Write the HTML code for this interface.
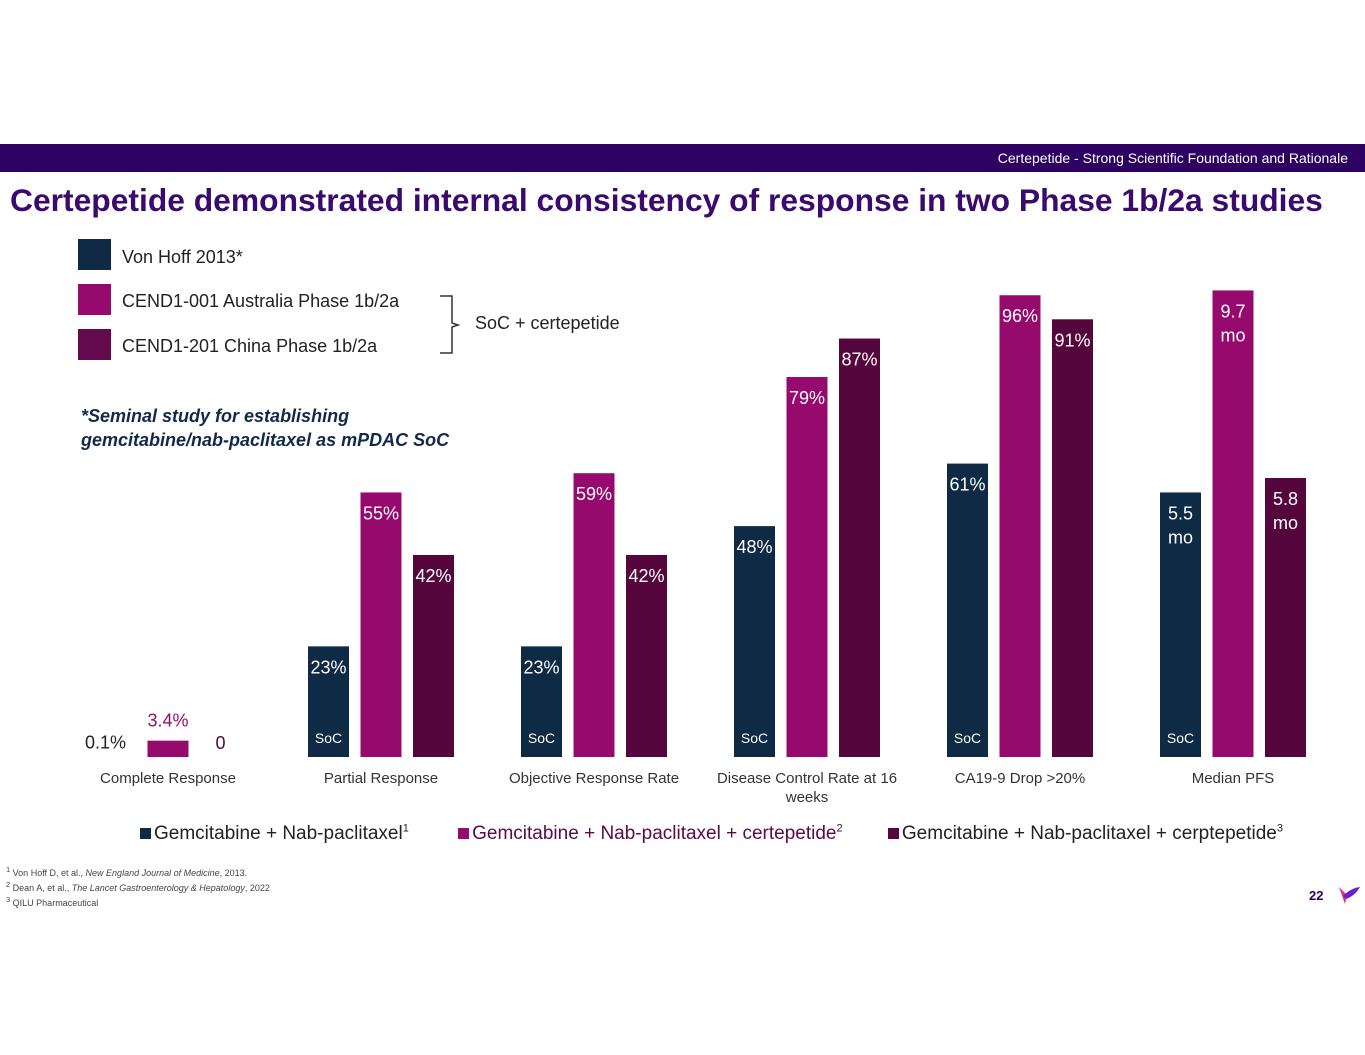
<!DOCTYPE html>
<html><head><meta charset="utf-8"><style>
body{margin:0;width:1365px;height:1055px;background:#fff;font-family:"Liberation Sans",sans-serif;position:relative;overflow:hidden}
.a{position:absolute;white-space:nowrap}
</style></head><body>
<div class="a" style="left:0;top:144px;width:1365px;height:28px;background:#2e0062"></div>
<div class="a" style="right:17px;top:150px;color:#fff;font-size:14px">Certepetide - Strong Scientific Foundation and Rationale</div>
<div class="a" style="left:10px;top:182px;color:#3a0a6e;font-size:31.8px;font-weight:bold">Certepetide demonstrated internal consistency of response in two Phase 1b/2a studies</div>

<div class="a" style="left:78px;top:239px;width:33px;height:31px;background:#0f2a44"></div>
<div class="a" style="left:122px;top:247px;font-size:18px;color:#222">Von Hoff 2013*</div>
<div class="a" style="left:78px;top:284px;width:33px;height:31px;background:#960a6e"></div>
<div class="a" style="left:122px;top:291px;font-size:18px;color:#222">CEND1-001 Australia Phase 1b/2a</div>
<div class="a" style="left:78px;top:329px;width:33px;height:31px;background:#640a4e"></div>
<div class="a" style="left:122px;top:336px;font-size:18px;color:#222">CEND1-201 China Phase 1b/2a</div>
<svg class="a" style="left:438px;top:294px" width="30" height="62"><path d="M2 2 H14 V29 L20 31 L14 33 V59 H2" fill="none" stroke="#333" stroke-width="1.5"/></svg>
<div class="a" style="left:475px;top:313px;font-size:18px;color:#222">SoC + certepetide</div>
<div class="a" style="left:81px;top:404px;font-size:18px;color:#13294b;font-weight:bold;font-style:italic;line-height:24px">*Seminal study for establishing<br>gemcitabine/nab-paclitaxel as mPDAC SoC</div>

<svg class="a" id="chart" style="left:0;top:0" width="1365" height="820"></svg>

<div class="a" style="left:140px;top:823px;font-size:19px;color:#222">
<span><span style="display:inline-block;width:11px;height:11px;background:#0f2a44;margin-right:3px"></span>Gemcitabine + Nab-paclitaxel<sup style="font-size:11px">1</sup></span>
<span style="margin-left:44px;color:#5a0a48"><span style="display:inline-block;width:11px;height:11px;background:#960a6e;margin-right:3px"></span>Gemcitabine + Nab-paclitaxel + certepetide<sup style="font-size:11px;color:#222">2</sup></span>
<span style="margin-left:40px"><span style="display:inline-block;width:11px;height:11px;background:#55063c;margin-right:3px"></span>Gemcitabine + Nab-paclitaxel + cerptepetide<sup style="font-size:11px">3</sup></span>
</div>

<div class="a" style="left:6px;top:864px;font-size:9px;color:#444;line-height:12px">
<sup>1</sup> Von Hoff D, et al., <i>New England Journal of Medicine</i>, 2013.<br>
<sup>2</sup> Dean A, et al., <i>The Lancet Gastroenterology &amp; Hepatology</i>, 2022<br>
<sup>3</sup> QILU Pharmaceutical</div>
<div class="a" style="left:1309px;top:888px;font-size:13px;font-weight:bold;color:#2e0062">22</div>
<svg class="a" style="left:1337px;top:884px" width="24" height="22"><path d="M2 3 L10 11 L8 20 Z" fill="#e0307a"/><path d="M6 12 Q14 4 23 3 Q18 12 9 15 Z" fill="#6a1fd0"/></svg>

<script>
const categories=["Complete Response","Partial Response","Objective Response Rate","Disease Control Rate at 16 weeks","CA19-9 Drop >20%","Median PFS"];
const socValues=[0.1,23,23,48,61,55];
const cend001Values=[3.4,55,59,79,96,97];
const cend201Values=[0,42,42,87,91,58];
const socLabels=["0.1%","23%","23%","48%","61%","5.5 mo"];
const cend001Labels=["3.4%","55%","59%","79%","96%","9.7 mo"];
const cend201Labels=["0","42%","42%","87%","91%","5.8 mo"];
const ns="http://www.w3.org/2000/svg";
const svg=document.getElementById('chart');
const base=757, pxPer=4.81, x0=168, step=213, bw=41;
const yS=v=>base-v*pxPer;
const xC=i=>x0+i*step;
const series=[{v:socValues,l:socLabels,c:"#0f2a44",off:-52.5,n:"soc"},{v:cend001Values,l:cend001Labels,c:"#960a6e",off:0,n:"cend1-001"},{v:cend201Values,l:cend201Labels,c:"#55063c",off:52.5,n:"cend1-201"}];
function txt(x,y,s,fill,size,name,anchor){const t=document.createElementNS(ns,'text');t.setAttribute('x',x);t.setAttribute('y',y);t.setAttribute('fill',fill);t.setAttribute('font-size',size);t.setAttribute('text-anchor',anchor||'middle');t.setAttribute('font-family','Liberation Sans, sans-serif');t.textContent=s;


svg.appendChild(t);return t;}
categories.forEach((cat,i)=>{
  const lines=cat==="Disease Control Rate at 16 weeks"?["Disease Control Rate at 16","weeks"]:[cat];
  lines.forEach((ln,k)=>txt(xC(i),783+k*19,ln,"#333",15,'category-label'));
  series.forEach(s=>{
    const v=s.v[i], cx=xC(i)+s.off, top=yS(v), h=base-top;
    if(h>=1){const r=document.createElementNS(ns,'rect');r.setAttribute('x',cx-bw/2);r.setAttribute('y',top);r.setAttribute('width',bw);r.setAttribute('height',h);r.setAttribute('fill',s.c);
    
    
    svg.appendChild(r);}
    const lab=s.l[i];
    if(h<40){
      const col=s.n==="soc"?"#222":(s.n==="cend1-001"?"#960a6e":"#55063c");
      txt(s.n==="soc"?cx-10:cx,top-(s.n==="cend1-001"?14:8),lab,col,18,'value-label');
    } else {
      const parts=lab.split(' ');
      parts.forEach((p,k)=>txt(cx,top+27+k*24,p,"#fff",18,'value-label'));
    }
    if(s.n==="soc"&&h>=40) txt(cx,743,"SoC","#fff",14,'soc-label');
  });
});
</script>
</body></html>
